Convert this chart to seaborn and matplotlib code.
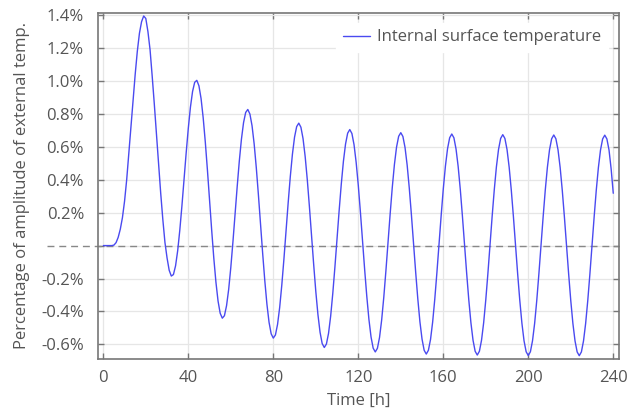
import numpy as np
import pandas as pd
import matplotlib
matplotlib.use("Agg")
import matplotlib.pyplot as plt
import seaborn as sns

# Time [h] (hourly samples) and response (% of external amplitude)
time_h = list(range(0, 241))
temp_pct = [
    0.0, 0.0, 0.0, 0.0, 0.0, 0.003, 0.018, 0.05, 0.10, 0.17,
    0.27, 0.40, 0.56, 0.72, 0.88, 1.04, 1.18, 1.29, 1.36, 1.395,
    1.38, 1.30, 1.19, 1.03, 0.86, 0.68, 0.50, 0.32, 0.16, 0.02,
    -0.075, -0.15, -0.185, -0.176, -0.123, -0.031, 0.094, 0.242, 0.403, 0.564,
    0.713, 0.841, 0.936, 0.992, 1.004, 0.971, 0.894, 0.777, 0.629, 0.459,
    0.276, 0.094, -0.076, -0.222, -0.337, -0.411, -0.441, -0.426, -0.365, -0.266,
    -0.133, 0.022, 0.189, 0.357, 0.513, 0.646, 0.747, 0.809, 0.827, 0.799,
    0.728, 0.617, 0.473, 0.307, 0.130, -0.048, -0.213, -0.356, -0.466, -0.536,
    -0.562, -0.543, -0.479, -0.376, -0.240, -0.082, 0.089, 0.260, 0.419, 0.555,
    0.659, 0.723, 0.744, 0.719, 0.650, 0.541, 0.400, 0.236, 0.061, -0.114,
    -0.278, -0.418, -0.526, -0.595, -0.619, -0.598, -0.533, -0.428, -0.290, -0.130,
    0.042, 0.214, 0.374, 0.512, 0.617, 0.683, 0.705, 0.681, 0.613, 0.505,
    0.366, 0.203, 0.029, -0.146, -0.308, -0.448, -0.555, -0.623, -0.646, -0.624,
    -0.558, -0.452, -0.314, -0.153, 0.020, 0.193, 0.354, 0.492, 0.598, 0.664,
    0.686, 0.663, 0.596, 0.489, 0.349, 0.187, 0.014, -0.160, -0.322, -0.462,
    -0.568, -0.636, -0.659, -0.636, -0.570, -0.464, -0.325, -0.164, 0.009, 0.182,
    0.344, 0.482, 0.588, 0.655, 0.678, 0.655, 0.587, 0.481, 0.342, 0.180,
    0.006, -0.167, -0.329, -0.468, -0.575, -0.642, -0.665, -0.642, -0.575, -0.469,
    -0.330, -0.169, 0.004, 0.178, 0.339, 0.478, 0.584, 0.651, 0.674, 0.651,
    0.584, 0.477, 0.338, 0.177, 0.003, -0.171, -0.332, -0.471, -0.578, -0.645,
    -0.668, -0.645, -0.578, -0.472, -0.333, -0.171, 0.002, 0.175, 0.337, 0.476,
    0.582, 0.649, 0.672, 0.649, 0.582, 0.475, 0.336, 0.175, 0.001, -0.172,
    -0.334, -0.473, -0.579, -0.646, -0.669, -0.646, -0.579, -0.473, -0.334, -0.173,
    0.001, 0.174, 0.336, 0.474, 0.581, 0.648, 0.671, 0.648, 0.581, 0.466,
    0.318,
]
series_name = "Internal surface temperature"
x_ticks = [0, 40, 80, 120, 160, 200, 240]
y_ticks = [-0.6, -0.4, -0.2, 0.0, 0.2, 0.4, 0.6, 0.8, 1.0, 1.2, 1.4]
y_tick_labels = ["-0.6%", "-0.4%", "-0.2%", "", "0.2%", "0.4%", "0.6%",
                 "0.8%", "1.0%", "1.2%", "1.4%"]

df = pd.DataFrame({"Time": time_h, "Value": temp_pct, "Series": series_name})

sns.set_theme(style="white")
plt.rcParams["font.family"] = ["Open Sans", "DejaVu Sans"]
text_color = "#555555"
spine_color = "#777777"

fig = plt.figure(figsize=(6.35, 4.11), dpi=100)
ax = fig.add_axes([98 / 635, 1 - 358.5 / 411, (619 - 98) / 635, (358.5 - 12.7) / 411])

sns.lineplot(data=df, x="Time", y="Value", hue="Series", palette=["#4a4af0"],
             linewidth=1.0, ax=ax, zorder=3)

ax.set_xlim(-2.5, 242.7)
ax.set_ylim(-0.686, 1.415)
ax.set_xticks(x_ticks)
ax.set_yticks(y_ticks)
ax.set_yticklabels(y_tick_labels)
ax.grid(True, color="#e6e6e6", linewidth=0.9)
ax.set_axisbelow(True)

ax.axhline(0, xmin=-0.098, xmax=1.0, color="#888888", linewidth=1.0,
           linestyle=(0, (5, 3.5)), clip_on=False, zorder=2)

for s in ax.spines.values():
    s.set_visible(True)
    s.set_color(spine_color)
    s.set_linewidth(1.2)

ax.tick_params(axis="both", direction="in", length=4, width=1.0, color=spine_color,
               labelsize=12, labelcolor=text_color, top=True, right=True,
               left=True, bottom=True)
ax.tick_params(axis="x", pad=8)
ax.tick_params(axis="y", pad=10)

ax.set_xlabel("Time [h]", fontsize=12, color=text_color, labelpad=5)
ax.set_ylabel("Percentage of amplitude of external temp.", fontsize=12,
              color=text_color, labelpad=8)

leg = ax.legend(loc="upper right", frameon=True, fontsize=12, handlelength=1.6,
                handletextpad=0.45, borderpad=0.4, fancybox=False,
                bbox_to_anchor=(0.995, 0.995))
leg.get_frame().set_facecolor("white")
leg.get_frame().set_edgecolor("white")
leg.get_frame().set_alpha(1.0)
for t in leg.get_texts():
    t.set_color(text_color)
leg.set_title(None)

fig.savefig("out.png", dpi=100, facecolor="white")
